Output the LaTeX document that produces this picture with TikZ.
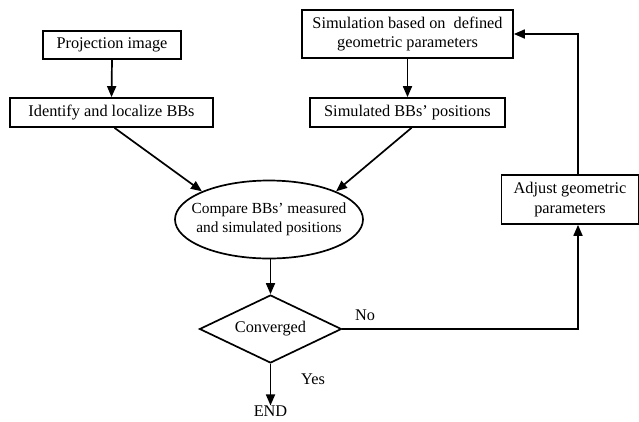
\documentclass[tikz,border=0pt]{standalone}
\usepackage{fontspec}
\setmainfont{Liberation Serif}
\usetikzlibrary{shapes.geometric,arrows.meta}
\begin{document}
\begin{tikzpicture}[x=1pt,y=-1pt,
  every node/.style={font=\fontsize{16.3}{19.5}\selectfont, inner sep=0pt},
  box/.style={draw, line width=1.7pt, align=center},
  arr/.style={line width=1.7pt, -{Triangle[length=11pt,width=9pt]}},
  ln/.style={line width=1.7pt}]
\useasboundingbox (0,0) rectangle (639,421);
\node[box, minimum width=138, minimum height=28] (proj) at (112,45) {Projection image};
\node[box, minimum width=203, minimum height=29] (ident) at (111.5,112.5) {Identify and localize BBs};
\node[box, minimum width=211, minimum height=48] (sim) at (407.5,34) {Simulation based on \ defined\\geometric parameters};
\node[box, minimum width=195, minimum height=29] (simpos) at (407.5,112.5) {Simulated BBs' positions};
\node[box, ellipse, minimum width=188, minimum height=78] (cmp) at (269,219.5) {};
\node[align=center, font=\fontsize{15.4}{19.5}\selectfont] (cmptext) at (cmp.center) {Compare BBs' measured\\and simulated positions};
\node[box, diamond, aspect=2.1, minimum width=142, minimum height=68] (conv) at (270.5,329) {Converged};
\node[box, minimum width=137, minimum height=49] (adj) at (570,199.5) {Adjust geometric\\parameters};
\node (endn) at (270.5,411) {END};
\node (no) at (365,315) {No};
\node (yes) at (313,379) {Yes};
\draw[arr] (proj.south) -- (ident.north);
\draw[arr] (sim.south) -- (simpos.north);
\draw[arr] ([xshift=3pt]ident.south) -- (cmp.north west);
\draw[arr] ([xshift=4pt]simpos.south) -- (cmp.north east);
\draw[arr] (cmp.south -| conv.north) -- (conv.north);
\draw[arr] (conv.south) -- (endn.north);
\draw[arr] (conv.east) -| ([xshift=8pt]adj.south);
\draw[arr] ([xshift=8pt]adj.north) |- (sim.east);
\end{tikzpicture}
\end{document}
